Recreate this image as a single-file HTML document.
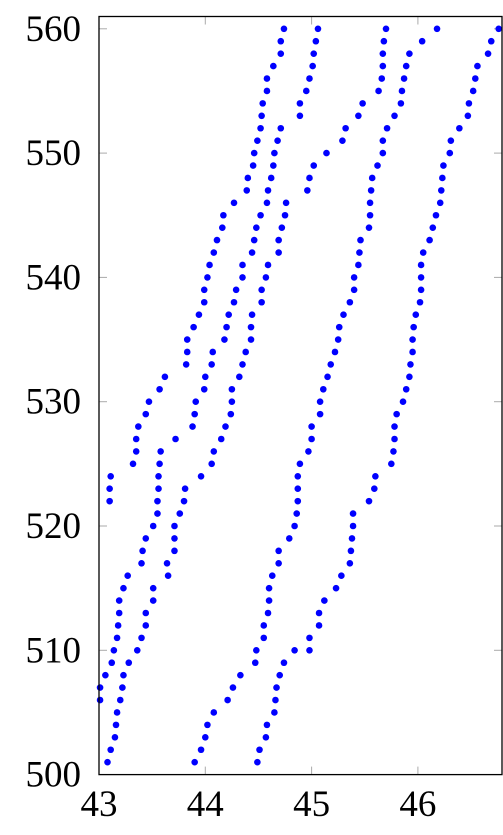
<!DOCTYPE html>
<html><head><meta charset="utf-8"><style>
html,body{margin:0;padding:0;background:#fff;width:503px;height:835px;overflow:hidden}
svg{display:block}
text{font-family:"Liberation Serif",serif;font-size:37px;fill:#000}
</style></head><body>
<svg id="chart" width="503" height="835" viewBox="0 0 503 835"></svg>
<script>
const xTicks = [43, 44, 45, 46];
const yTicks = [500, 510, 520, 530, 540, 550, 560];
const rowY = [560,559,558,557,556,555,554,553,552,551,550,549,548,547,546,545,544,543,542,541,540,539,538,537,536,535,534,533,532,531,530,529,528,527,526,525,524,523,522,521,520,519,518,517,516,515,514,513,512,511,510,509,508,507,506,505,504,503,502,501];
const rowX = [
[44.74,45.06,45.70,46.18,46.76],[44.71,45.04,45.68,46.04,46.69],[44.71,45.02,45.67,45.92,46.66],[44.64,45.01,45.67,45.89,46.56],
[44.58,44.98,45.66,45.87,46.54],[44.58,44.95,45.63,45.85,46.52],[44.54,44.89,45.48,45.84,46.48],[44.53,44.89,45.44,45.78,46.47],
[44.52,44.71,45.32,45.71,46.39],[44.49,44.68,45.29,45.67,46.31],[44.46,44.65,45.14,45.67,46.30],[44.45,44.64,45.02,45.62,46.24],
[44.40,44.62,44.98,45.57,46.23],[44.39,44.59,44.96,45.56,46.22],[44.27,44.58,44.76,45.55,46.21],[44.17,44.52,44.75,45.55,46.17],
[44.16,44.48,44.72,45.54,46.14],[44.11,44.46,44.69,45.46,46.11],[44.08,44.44,44.69,45.45,46.05],[44.04,44.35,44.59,45.44,46.03],
[44.02,44.35,44.57,45.40,46.03],[43.99,44.29,44.53,45.40,46.03],[43.99,44.27,44.53,45.36,46.02],[43.94,44.22,44.44,45.30,45.98],
[43.89,44.20,44.43,45.26,45.96],[43.83,44.18,44.43,45.25,45.95],[43.83,44.07,44.38,45.22,45.95],[43.82,44.06,44.35,45.18,45.93],
[43.62,44.00,44.32,45.15,45.92],[43.57,43.99,44.25,45.11,45.89],[43.47,43.91,44.25,45.08,45.86],[43.44,43.90,44.24,45.08,45.80],
[43.37,43.88,44.19,45.00,45.78],[43.35,43.72,44.15,45.00,45.78],[43.35,43.58,44.08,44.97,45.77],[43.32,43.57,44.06,44.89,45.75],
[43.11,43.56,43.96,44.87,45.60],[43.10,43.56,43.81,44.87,45.59],[43.10,43.55,43.80,44.87,45.54],[43.55,43.76,44.86,45.39],
[43.51,43.71,44.84,45.39],[43.44,43.71,44.79,45.38],[43.41,43.71,44.69,45.37],[43.40,43.64,44.69,45.36],
[43.27,43.65,44.63,45.28],[43.23,43.51,44.60,45.23],[43.19,43.51,44.60,45.12],[43.19,43.44,44.59,45.07],
[43.18,43.44,44.55,45.07],[43.17,43.40,44.55,44.98],[43.14,43.36,44.48,44.84,44.98],[43.12,43.28,44.47,44.74],
[43.06,43.23,44.33,44.70],[43.01,43.22,44.26,44.67],[43.01,43.20,44.21,44.66],[43.17,44.08,44.65],
[43.16,44.02,44.58],[43.15,44.00,44.57],[43.11,43.96,44.51],[43.08,43.90,44.49]
];
const NS='http://www.w3.org/2000/svg';
const svg=document.getElementById('chart');
const L=99,R=502,T=16.5,B=774.6;
const xMin=43,xScale=106.3,yMin=500,yScale=12.43;
function sx(v){return L+(v-xMin)*xScale;}
function sy(v){return B-(v-yMin)*yScale;}
function mk(tag,attrs){const e=document.createElementNS(NS,tag);for(const k in attrs)e.setAttribute(k,attrs[k]);svg.appendChild(e);return e;}
xTicks.forEach(t=>{
  const x=sx(t);
  if(x>L+1&&x<R-1){
    const a=mk('line',{x1:x,x2:x,y1:B,y2:B-8,stroke:'#aaa','stroke-width':1});
    
    
    const b=mk('line',{x1:x,x2:x,y1:T,y2:T+8,stroke:'#aaa','stroke-width':1});
    
    
  }
  const tx=mk('text',{x:x,y:816,'text-anchor':'middle'});
  tx.textContent=t;
  
  
});
yTicks.forEach(t=>{
  const y=sy(t);
  if(y>T+1&&y<B-1){
    const a=mk('line',{x1:L,x2:L+8,y1:y,y2:y,stroke:'#aaa','stroke-width':1});
    
    
    const b=mk('line',{x1:R,x2:R-8,y1:y,y2:y,stroke:'#aaa','stroke-width':1});
    
    
  }
  const tx=mk('text',{x:81,y:y+12,'text-anchor':'end'});
  tx.textContent=t;
  
  
});
rowY.forEach((yv,i)=>{
  rowX[i].forEach(xv=>{
    const c=mk('circle',{cx:sx(xv),cy:sy(yv),r:3.3,fill:'#0000ff'});
    
    
  });
});
const f=mk('rect',{x:L,y:T,width:R-L,height:B-T,fill:'none',stroke:'#000','stroke-width':1.3});


</script>
</body></html>
